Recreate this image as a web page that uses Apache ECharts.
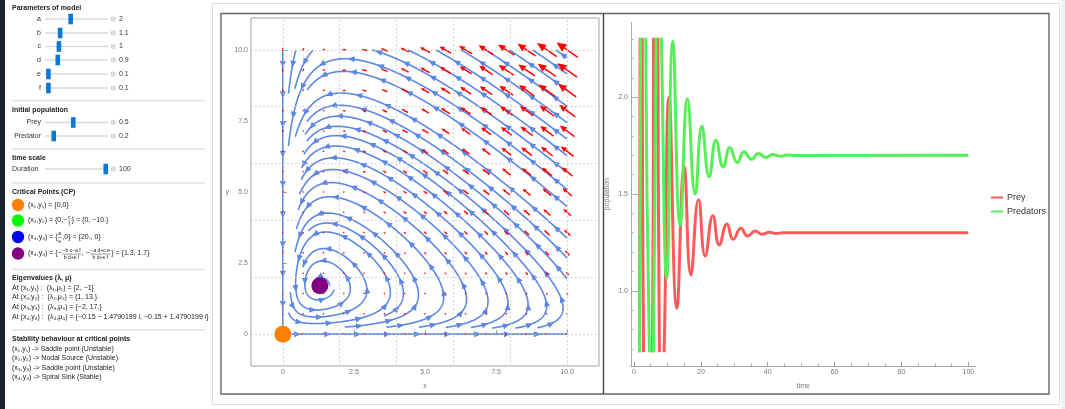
<!DOCTYPE html>
<html><head><meta charset="utf-8">
<script src="https://cdn.jsdelivr.net/npm/echarts/dist/echarts.min.js"></script>
<style>html,body{margin:0;padding:0;background:#fff;}#c{width:1065px;height:409px;}</style>
</head><body><div id="c"></div>
<script>
// ================= DATA =================
const paramNames = ['a', 'b', 'c', 'd', 'e', 'f'];
const paramValues = [2, 1.1, 1, 0.9, 0.1, 0.1];
const paramLabels = ['2', '1.1', '1', '0.9', '0.1', '0.1'];
const initNames = ['Prey', 'Predator'];
const initValues = [0.5, 0.2];
const initLabels = ['0.5', '0.2'];
const durationValue = 100;
const criticalPoints = [[0, 0], [0, -10], [20, 0], [1.3, 1.7]];
const cpColors = ['#ff8000', '#00ff00', '#0000ff', '#800080'];
const streamTicks = [0, 2.5, 5, 7.5, 10];
const streamGridLines = [0, 2, 4, 6, 8, 10];
const timeTicks = [0, 20, 40, 60, 80, 100];
const timeMinorTicks = [0,5,10,15,20,25,30,35,40,45,50,55,60,65,70,75,80,85,90,95,100];
const popTicks = [1.0, 1.5, 2.0];
const popMinorTicks = [0.7,0.8,0.9,1.0,1.1,1.2,1.3,1.4,1.5,1.6,1.7,1.8,1.9,2.0,2.1,2.2,2.3];
// time series (values beyond the clip band mark off-range excursions)
const preyT = [0, 1.0, 1.6, 1.8, 2.1, 2.45, 2.85, 4.0, 5.55, 5.85, 6.5, 7.15, 7.6, 8.3, 9.0, 10.5, 12.8, 15.0, 17.0, 19.3, 21.3, 23.6, 25.5, 27.8, 29.7, 32.0, 34.0, 36.3, 38.2, 40.5, 42.5, 44.7, 100];
const preyV = [0.5, 0.4, 0.69, 2.3, 5, 2.3, 0.69, 0.1, 0.69, 2.3, 5, 2.3, 0.69, 0.45, 0.69, 2.0, 0.91, 1.64, 1.082, 1.47, 1.18, 1.388, 1.237, 1.345, 1.266, 1.323, 1.283, 1.309, 1.292, 1.302, 1.296, 1.3, 1.3];
const predT = [0, 1.0, 1.65, 1.95, 2.7, 3.5, 4.6, 5.2, 5.8, 6.6, 7.3, 8.2, 9.8, 11.6, 13.8, 16.0, 18.3, 20.3, 22.5, 24.5, 26.7, 28.7, 30.9, 32.9, 35.2, 37.2, 39.5, 41.5, 43.8, 46.0, 48.2, 100];
const predV = [0.2, 0.3, 0.69, 2.3, 6, 2.3, 0.69, 0.45, 0.69, 2.3, 3.2, 2.3, 1.065, 2.29, 1.34, 1.993, 1.50, 1.85, 1.589, 1.778, 1.641, 1.741, 1.663, 1.718, 1.680, 1.710, 1.689, 1.705, 1.695, 1.702, 1.699, 1.7];

// ================= MODEL FIELD =================
const [A, B, C, D, E, F] = paramValues;
const fld = (x, y) => [A * x - B * x * y - E * x * x, -C * y + D * x * y - F * y * y];

function buildStreamlines() {
  const X0 = 0, X1 = 10, Y0 = 0, Y1 = 10;
  const dsep = 0.46, dtest = 0.2, h = 0.02, minLen = 0.35;
  const den = B * D + E * F;
  const sink = [(B * C + A * F) / den, (A * D - C * E) / den];
  const cs = dsep;
  const buckets = new Map();
  const inside = (x, y) => x >= X0 - 1e-9 && x <= X1 + 1e-9 && y >= Y0 - 1e-9 && y <= Y1 + 1e-9;
  const kx = x => Math.floor((x - X0) / cs) + 2;
  function addTo(map, x, y, idx) {
    const k = kx(x) * 1000 + kx(y);
    let b = map.get(k); if (!b) { b = []; map.set(k, b); }
    b.push([x, y, idx]);
  }
  function freeIn(map, x, y, d, idx, skip) {
    const ix = kx(x), iy = kx(y), r = Math.ceil(d / cs);
    for (let i = ix - r; i <= ix + r; i++) for (let j = iy - r; j <= iy + r; j++) {
      const b = map.get(i * 1000 + j); if (!b) continue;
      for (const p of b) {
        if (skip && Math.abs(p[2] - idx) < skip) continue;
        const dx = p[0] - x, dy = p[1] - y;
        if (dx * dx + dy * dy < d * d) return false;
      }
    }
    return true;
  }
  function dirAt(x, y, s) {
    const v = fld(x, y); const m = Math.hypot(v[0], v[1]);
    if (m < 1e-6) return null; return [s * v[0] / m, s * v[1] / m];
  }
  const skip = Math.ceil(2.2 * dtest / h) + 1;
  function trace(sx, sy, s, own) {
    const pts = []; let x = sx, y = sy;
    for (let n = 1; n < 5000; n++) {
      const k1 = dirAt(x, y, s); if (!k1) break;
      const mx = x + k1[0] * h / 2, my = y + k1[1] * h / 2;
      const k2 = dirAt(mx, my, s); if (!k2) break;
      const nx = x + k2[0] * h, ny = y + k2[1] * h;
      if (!inside(nx, ny)) break;
      if (Math.hypot(nx - sink[0], ny - sink[1]) < 0.12) break;
      if (!freeIn(buckets, nx, ny, dtest, 0, 0)) break;
      if (!freeIn(own, nx, ny, dtest, s * n, skip)) break;
      addTo(own, nx, ny, s * n);
      pts.push([nx, ny]); x = nx; y = ny;
    }
    return pts;
  }
  const lines = [], queue = [];
  function tryLine(sx, sy) {
    if (!inside(sx, sy) || !freeIn(buckets, sx, sy, dsep, 0, 0)) return;
    const own = new Map(); addTo(own, sx, sy, 0);
    const fw = trace(sx, sy, 1, own), bw = trace(sx, sy, -1, own);
    const pts = bw.reverse().concat([[sx, sy]], fw);
    let len = 0; for (let i = 1; i < pts.length; i++) len += Math.hypot(pts[i][0] - pts[i-1][0], pts[i][1] - pts[i-1][1]);
    if (len < minLen) return;
    pts.forEach(p => addTo(buckets, p[0], p[1], 0));
    lines.push(pts); queue.push(pts);
  }
  tryLine(5, 0); tryLine(0, 5); tryLine(sink[0] + 0.35, sink[1]);
  while (queue.length) {
    const L = queue.shift();
    for (let k = 0; k < L.length; k += 4) {
      const q = L[Math.min(k + 1, L.length - 1)], r = L[Math.max(k - 1, 0)];
      let tx = q[0] - r[0], ty = q[1] - r[1]; const tm = Math.hypot(tx, ty); if (!tm) continue;
      tx /= tm; ty /= tm;
      tryLine(L[k][0] - ty * dsep, L[k][1] + tx * dsep);
      tryLine(L[k][0] + ty * dsep, L[k][1] - tx * dsep);
    }
  }
  return lines;
}
const streamLines = buildStreamlines();

const fieldPts = [];
for (let i = 0; i < 15; i++) for (let j = 0; j < 15; j++) {
  const x = 10 * i / 14, y = 10 * j / 14; const v = fld(x, y);
  fieldPts.push([x, y, v[0], v[1]]);
}
const maxMag = Math.max(...fieldPts.map(p => Math.hypot(p[2], p[3])));

// ================= LEFT PANEL =================
const FONT = '"Liberation Sans", Arial, sans-serif';
const mctx = document.createElement('canvas').getContext('2d');
function tw(s, size, weight) { mctx.font = (weight || 'normal') + ' ' + size + 'px ' + FONT; return mctx.measureText(s).width; }
const G = [];
function txt(s, x, y, opt) {
  opt = opt || {};
  G.push({ type: 'text', silent: true, style: { text: s, x: x, y: y, fill: opt.fill || '#222', fontSize: opt.size || 7, fontFamily: FONT,
    fontWeight: opt.bold ? 'bold' : 'normal', fontStyle: opt.italic ? 'italic' : 'normal', align: opt.align || 'left', verticalAlign: 'middle', rich: opt.rich } });
}
function sep(y) { G.push({ type: 'rect', silent: true, shape: { x: 12, y: y - 0.75, width: 193, height: 1.5 }, style: { fill: '#e2e2e2' } }); }
function slider(y, frac, val) {
  G.push({ type: 'rect', silent: true, shape: { x: 45, y: y - 0.8, width: 63, height: 1.6 }, style: { fill: '#d9d9d9' } });
  const cx = 47.25 + frac * 58.5;
  G.push({ type: 'rect', silent: true, shape: { x: cx - 2.3, y: y - 5.3, width: 4.6, height: 10.6 }, style: { fill: '#0b78d6' } });
  G.push({ type: 'rect', silent: true, shape: { x: 111.5, y: y - 1.8, width: 3.6, height: 3.6 }, style: { fill: 'none', stroke: '#c4c4c4', lineWidth: 0.8 } });
  G.push({ type: 'line', silent: true, shape: { x1: 113.3, y1: y - 1.8, x2: 113.3, y2: y + 1.8 }, style: { stroke: '#c4c4c4', lineWidth: 0.6 } });
  G.push({ type: 'line', silent: true, shape: { x1: 111.5, y1: y, x2: 115.1, y2: y }, style: { stroke: '#c4c4c4', lineWidth: 0.6 } });
  txt(val, 119, y, { fill: '#333' });
}
// dark left edge
G.push({ type: 'rect', silent: true, shape: { x: 0, y: 0, width: 5, height: 409 }, style: { fill: '#1d2233' } });
txt('Parameters of model', 12, 8, { bold: true });
const pRows = [19, 33, 46.5, 60, 74, 88];
paramNames.forEach((n, i) => { txt(n, 41, pRows[i], { align: 'right', fill: '#333' }); slider(pRows[i], paramValues[i] / 5, paramLabels[i]); });
sep(100.5);
txt('Initial population', 12, 110, { bold: true });
const iRows = [122.5, 136];
initNames.forEach((n, i) => { txt(n, 41, iRows[i], { align: 'right', fill: '#333' }); slider(iRows[i], (initValues[i] - 0.1) / 0.9, initLabels[i]); });
sep(149);
txt('time scale', 12, 158, { bold: true });
txt('Duration', 12, 169, { fill: '#333' });
slider(169, durationValue / 100, String(durationValue));
sep(183);
txt('Critical Points (CP)', 12, 192, { bold: true });
const cpRows = [205, 220.5, 237, 253.5];
cpColors.forEach((c, i) => G.push({ type: 'circle', silent: true, shape: { cx: 18, cy: cpRows[i], r: 6.2 }, style: { fill: c } }));
function cpLine(y, parts) {
  let x = 28;
  parts.forEach(p => {
    if (typeof p === 'string') { txt(p, x, y); x += tw(p, 7); }
    else {
      const w = Math.max(tw(p[0], 5), tw(p[1], 5)) + 1.5;
      txt(p[0], x + w / 2, y - 3.3, { size: 5, align: 'center' });
      txt(p[1], x + w / 2, y + 4.3, { size: 5, align: 'center' });
      G.push({ type: 'line', silent: true, shape: { x1: x + 0.3, y1: y + 0.6, x2: x + w - 0.3, y2: y + 0.6 }, style: { stroke: '#333', lineWidth: 0.5 } });
      x += w + 0.5;
    }
  });
}
cpLine(cpRows[0], ['(x\u2081,y\u2081) = {0,0}']);
cpLine(cpRows[1], ['(x\u2082,y\u2082) = {0,\u2212', ['c', 'f'], '} = {0, \u221210.}']);
cpLine(cpRows[2], ['(x\u2083,y\u2083) = {', ['a', 'e'], ',0} = {20., 0}']);
cpLine(cpRows[3], ['(x\u2084,y\u2084) = {\u2212', ['\u2212b c\u2212a f', 'b d+e f'], ', \u2212', ['\u2212a d+c e', 'b d+e f'], '} = {1.3, 1.7}']);
sep(269.5);
txt('Eigenvalues (\u03bb, \u03bc)', 12, 278, { bold: true });
const eRows = [288, 297.5, 307, 317];
const eTexts = ['At (x\u2081,y\u2081) :  (\u03bb\u2081,\u03bc\u2081) = {2, \u22121}',
  'At (x\u2082,y\u2082) :  (\u03bb\u2082,\u03bc\u2082) = {1, 13.}',
  'At (x\u2083,y\u2083) :  (\u03bb\u2083,\u03bc\u2083) = {\u22122, 17.}'];
eTexts.forEach((t, i) => txt(t, 12, eRows[i]));
txt('{n|At (x\u2084,y\u2084) :  (\u03bb\u2084,\u03bc\u2084) = {\u22120.15 \u2212 1.4790199 }{i|i}{n|, \u22120.15 + 1.4790199 }{i|i}{n|}}', 12, eRows[3],
  { rich: { n: { fontSize: 7, fontFamily: FONT, fill: '#222' }, i: { fontSize: 7, fontFamily: FONT, fontStyle: 'italic', fill: '#222' } } });
sep(330);
txt('Stability behaviour at critical points', 12, 339, { bold: true });
const sRows = [349, 358.5, 368, 377.5];
['(x\u2081,y\u2081) -> Saddle point (Unstable)', '(x\u2082,y\u2082) -> Nodal Source (Unstable)',
 '(x\u2083,y\u2083) -> Saddle point (Unstable)', '(x\u2084,y\u2084) -> Spiral Sink (Stable)'].forEach((t, i) => txt(t, 12, sRows[i]));
// frames
G.push({ type: 'rect', silent: true, shape: { x: 212.5, y: 3.5, width: 847, height: 401 }, style: { fill: 'none', stroke: '#dcdcdc', lineWidth: 1 } });
G.push({ type: 'rect', silent: true, shape: { x: 221, y: 13.5, width: 828, height: 380.5 }, style: { fill: 'none', stroke: '#666', lineWidth: 1.4 } });
G.push({ type: 'line', silent: true, shape: { x1: 603.5, y1: 13.5, x2: 603.5, y2: 394 }, style: { stroke: '#444', lineWidth: 1.4 } });
G.push({ type: 'rect', silent: true, shape: { x: 1061, y: 0, width: 4, height: 409 }, style: { fill: '#f1f1f1' } });

// ================= CHART =================
const lbl = { fontSize: 7, color: '#777', fontFamily: FONT };
const fmtS = v => (v === 0 ? '0' : v.toFixed(1));
const option = {
  animation: false,
  graphic: { elements: G },
  legend: { data: ['Prey', 'Predators'], orient: 'vertical', left: 986, top: 188, itemWidth: 12, itemHeight: 2, itemGap: 5, icon: 'rect',
    textStyle: { fontSize: 9, color: '#333', fontFamily: FONT, padding: [0, 0, 0, -1] } },
  grid: [
    { left: 251, top: 18, width: 348, height: 348, show: true, borderColor: '#a0a0a0', borderWidth: 1, backgroundColor: 'transparent' },
    { left: 631, top: 22.3, width: 344.7, height: 343.7 },
    { left: 631, top: 39.3, width: 344.7, height: 311.4 }
  ],
  xAxis: [
    { gridIndex: 0, type: 'value', min: -1.12, max: 11.12, axisLine: { show: false }, splitLine: { show: false },
      axisTick: { show: true, inside: true, length: 4, customValues: streamTicks, lineStyle: { color: '#999' } },
      axisLabel: { customValues: streamTicks, formatter: fmtS, margin: 3, ...lbl },
      name: 'x', nameLocation: 'middle', nameGap: 17, nameTextStyle: lbl },
    { gridIndex: 1, type: 'value', position: 'bottom', min: -0.9, max: 102.2, axisLine: { show: true, onZero: false, lineStyle: { color: '#a8a8a8' } }, splitLine: { show: false },
      axisTick: { show: true, inside: true, length: 2.5, customValues: timeMinorTicks, lineStyle: { color: '#a8a8a8' } },
      axisLabel: { customValues: timeTicks, formatter: v => String(v), margin: 3, ...lbl },
      name: 'time', nameLocation: 'middle', nameGap: 17, nameTextStyle: lbl },
    { gridIndex: 1, type: 'value', position: 'bottom', min: -0.9, max: 102.2, axisLine: { show: false }, splitLine: { show: false },
      axisTick: { show: true, inside: true, length: 4.5, customValues: timeTicks, lineStyle: { color: '#a8a8a8' } }, axisLabel: { show: false } },
    { gridIndex: 2, type: 'value', min: -0.9, max: 102.2, show: false }
  ],
  yAxis: [
    { gridIndex: 0, type: 'value', min: -1.12, max: 11.12, axisLine: { show: false }, splitLine: { show: false },
      axisTick: { show: true, inside: true, length: 4, customValues: streamTicks, lineStyle: { color: '#999' } },
      axisLabel: { customValues: streamTicks, formatter: fmtS, margin: 3, ...lbl },
      name: 'y', nameLocation: 'middle', nameRotate: 0, nameGap: 22, nameTextStyle: lbl },
    { gridIndex: 1, type: 'value', position: 'left', min: 0.611, max: 2.388, axisLine: { show: true, onZero: false, lineStyle: { color: '#a8a8a8' } }, splitLine: { show: false },
      axisTick: { show: true, inside: true, length: 2.5, customValues: popMinorTicks, lineStyle: { color: '#a8a8a8' } },
      axisLabel: { customValues: popTicks, formatter: v => v.toFixed(1), margin: 3, ...lbl },
      name: 'population', nameLocation: 'middle', nameRotate: 90, nameGap: 20, nameTextStyle: lbl },
    { gridIndex: 1, type: 'value', position: 'left', min: 0.611, max: 2.388, axisLine: { show: false }, splitLine: { show: false },
      axisTick: { show: true, inside: true, length: 4.5, customValues: popTicks, lineStyle: { color: '#a8a8a8' } }, axisLabel: { show: false } },
    { gridIndex: 2, type: 'value', min: 0.69, max: 2.30, show: false }
  ],
  series: [
    { type: 'line', xAxisIndex: 0, yAxisIndex: 0, data: [], silent: true,
      markLine: { silent: true, symbol: 'none', label: { show: false },
        lineStyle: { type: [1.5, 2.5], color: '#c8c8c8', width: 1 },
        data: streamGridLines.map(v => ({ xAxis: v })).concat(streamGridLines.map(v => ({ yAxis: v }))) } },
    { type: 'custom', xAxisIndex: 0, yAxisIndex: 0, silent: true, clip: true,
      data: streamLines.map((l, i) => [l[0][0], l[0][1], i]),
      renderItem: function (params, api) {
        const line = streamLines[api.value(2)];
        const px = line.map(p => api.coord(p));
        const col = '#5d87e4';
        const ch = [{ type: 'polyline', shape: { points: px }, style: { stroke: col, lineWidth: 1.6, fill: null } }];
        const cum = [0];
        for (let i = 1; i < px.length; i++) cum.push(cum[i - 1] + Math.hypot(px[i][0] - px[i - 1][0], px[i][1] - px[i - 1][1]));
        const total = cum[cum.length - 1];
        const sp = 30;
        let s0 = total < sp ? total * 0.6 : sp * 0.6;
        let j = 1;
        for (let s = s0; s < total; s += sp) {
          while (j < cum.length - 1 && cum[j] < s) j++;
          const p = px[j], q = px[Math.max(j - 3, 0)];
          let dx = p[0] - q[0], dy = p[1] - q[1]; const m = Math.hypot(dx, dy); if (!m) continue;
          dx /= m; dy /= m;
          const hl = 7, hw = 3;
          const bx = p[0] - dx * hl, by = p[1] - dy * hl;
          ch.push({ type: 'polygon', shape: { points: [[p[0], p[1]], [bx - dy * hw, by + dx * hw], [bx + dy * hw, by - dx * hw]] }, style: { fill: col } });
        }
        return { type: 'group', children: ch };
      } },
    { type: 'custom', xAxisIndex: 0, yAxisIndex: 0, silent: true, clip: true,
      data: fieldPts,
      renderItem: function (params, api) {
        const c = api.coord([api.value(0), api.value(1)]);
        const u = api.value(2), v = api.value(3);
        const m = Math.hypot(u, v);
        const L = 26 * m / maxMag;
        if (L < 1.8) return { type: 'circle', shape: { cx: c[0], cy: c[1], r: 0.8 }, style: { fill: '#ff0000' } };
        const dx = u / m, dy = -v / m;
        const x0 = c[0] - dx * L / 2, y0 = c[1] - dy * L / 2, x1 = c[0] + dx * L / 2, y1 = c[1] + dy * L / 2;
        const hl = Math.max(0.38 * L, 1.4), hw = Math.max(0.17 * L, 0.8);
        const bx = x1 - dx * hl, by = y1 - dy * hl;
        return { type: 'group', children: [
          { type: 'line', shape: { x1: x0, y1: y0, x2: bx, y2: by }, style: { stroke: '#ff0000', lineWidth: 1.5 } },
          { type: 'polygon', shape: { points: [[x1, y1], [bx - dy * hw, by + dx * hw], [bx + dy * hw, by - dx * hw]] }, style: { fill: '#ff0000' } }
        ] };
      } },
    { type: 'scatter', xAxisIndex: 0, yAxisIndex: 0, silent: true, clip: true, symbolSize: 17, z: 5,
      data: criticalPoints.map((p, i) => ({ value: p, itemStyle: { color: cpColors[i], opacity: 1 } })) },
    { name: 'Prey', type: 'line', xAxisIndex: 3, yAxisIndex: 3, clip: true, showSymbol: false, smooth: 0.5, silent: true,
      color: '#ff5a5a', lineStyle: { width: 3, color: '#ff5a5a' }, data: preyT.map((t, i) => [t, preyV[i]]) },
    { name: 'Predators', type: 'line', xAxisIndex: 3, yAxisIndex: 3, clip: true, showSymbol: false, smooth: 0.5, silent: true,
      color: '#55f055', lineStyle: { width: 3, color: '#55f055' }, data: predT.map((t, i) => [t, predV[i]]) }
  ]
};
const chart = echarts.init(document.getElementById('c'), null, { renderer: 'canvas', width: 1065, height: 409 });
chart.setOption(option);
</script></body></html>
